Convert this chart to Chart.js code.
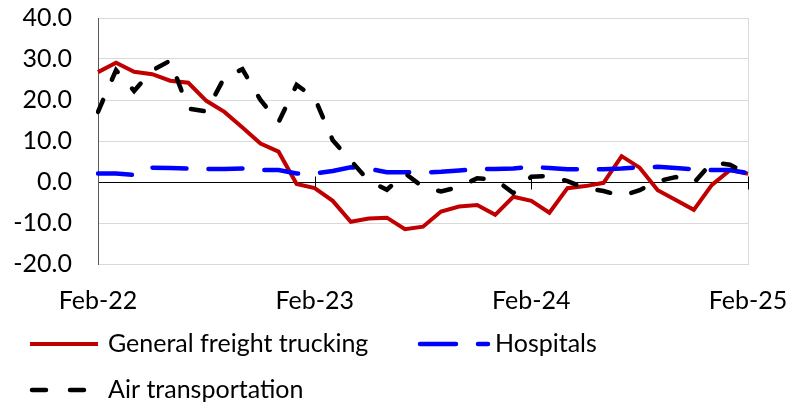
<!DOCTYPE html>
<html>
<head>
<meta charset="utf-8">
<script src="https://cdn.jsdelivr.net/npm/chart.js@4.4.1/dist/chart.umd.min.js"></script>
<style>
  html, body { margin: 0; padding: 0; background: #fff; }
  #wrap { width: 797px; height: 409px; }
</style>
</head>
<body>
<div id="wrap"><canvas id="chart" width="797" height="409"></canvas></div>
<script>
(function () {
  "use strict";

  /* ---------- Data (monthly, Feb-22 .. Feb-25) ---------- */
  const months = [
    "Feb-22", "Mar-22", "Apr-22", "May-22", "Jun-22", "Jul-22", "Aug-22", "Sep-22", "Oct-22", "Nov-22", "Dec-22", "Jan-23",
    "Feb-23", "Mar-23", "Apr-23", "May-23", "Jun-23", "Jul-23", "Aug-23", "Sep-23", "Oct-23", "Nov-23", "Dec-23", "Jan-24",
    "Feb-24", "Mar-24", "Apr-24", "May-24", "Jun-24", "Jul-24", "Aug-24", "Sep-24", "Oct-24", "Nov-24", "Dec-24", "Jan-25",
    "Feb-25"
  ];
  const tickLabels = ["Feb-22", "Feb-23", "Feb-24", "Feb-25"];
  const yTicks = [-20, -10, 0, 10, 20, 30, 40];

  const trucking = [
    26.8, 29.1, 26.9, 26.3, 24.7, 24.2, 19.8, 17.1, 13.3, 9.4, 7.4, -0.5,
    -1.5, -4.6, -9.7, -8.9, -8.7, -11.5, -10.9, -7.2, -6.0, -5.6, -8.0, -3.6,
    -4.6, -7.5, -1.5, -1.0, -0.2, 6.3, 3.5, -2.0, -4.4, -6.8, -0.7, 2.9,
    2.0
  ];
  const hospitals = [
    2.1, 2.1, 1.7, 3.5, 3.4, 3.3, 3.2, 3.2, 3.3, 2.9, 2.9, 2.1,
    2.1, 2.7, 3.6, 3.2, 2.4, 2.4, 2.3, 2.5, 2.8, 3.1, 3.2, 3.3,
    3.7, 3.4, 3.1, 3.1, 3.1, 3.3, 3.6, 3.7, 3.4, 3.1, 2.9, 2.9,
    2.2
  ];
  const airTransport = [
    17.1, 27.3, 22.2, 27.2, 29.6, 17.9, 17.2, 25.5, 27.5, 20.0, 14.6, 23.7,
    20.5, 10.2, 5.2, 0.3, -1.9, 2.1, -1.2, -2.3, -1.2, 0.9, 0.6, -2.7,
    1.3, 1.5, 0.2, -1.5, -2.2, -3.4, -2.0, 0.2, 1.2, -0.2, 4.8, 4.2,
    2.0
  ];

  /* ---------- Style ---------- */
  const RED = "#C00000";
  const BLUE = "#0000FF";
  const BLACK = "#000000";
  const GRID = "#D9D9D9";
  const FONT = "Lato, 'Liberation Sans', sans-serif";
  const FONT_SIZE = 25;

  Chart.defaults.font.family = FONT;
  Chart.defaults.font.size = FONT_SIZE;
  Chart.defaults.color = "#000";

  /* frame, zero axis with cross ticks */
  const framePlugin = {
    id: "frame",
    beforeDatasetsDraw(chart) {
      const { ctx, chartArea: a, scales } = chart;
      const y0 = Math.round(scales.y.getPixelForValue(0)) + 0.5;
      ctx.save();
      ctx.strokeStyle = GRID;
      ctx.lineWidth = 1;
      ctx.strokeRect(a.left + 0.5, a.top + 0.5, a.right - a.left, a.bottom - a.top);
      ctx.strokeStyle = "#000";
      ctx.beginPath();
      ctx.moveTo(a.left, y0);
      ctx.lineTo(a.right, y0);
      months.forEach((m, i) => {
        if (i === 0 || !tickLabels.includes(m)) return;
        const x = Math.round(scales.x.getPixelForValue(i)) + 0.5;
        ctx.moveTo(x, y0 - 6);
        ctx.lineTo(x, y0 + 7);
      });
      ctx.stroke();
      ctx.strokeStyle = "#595959";
      ctx.beginPath();
      ctx.moveTo(a.left + 0.5, a.top);
      ctx.lineTo(a.left + 0.5, a.bottom + 1);
      ctx.stroke();
      ctx.restore();
    }
  };

  /* legend in two rows, as in the source */
  const legendItems = [
    { label: "General freight trucking", color: RED, dash: [], x: 32, w: 66, tx: 108, y: 344 },
    { label: "Hospitals", color: BLUE, dash: [36, 22], x: 420, w: 68, tx: 495, y: 344 },
    { label: "Air transportation", color: BLACK, dash: [14, 24], x: 32, w: 54, tx: 108, y: 390 }
  ];
  const legendPlugin = {
    id: "legendRows",
    afterDraw(chart) {
      const ctx = chart.ctx;
      ctx.save();
      legendItems.forEach(it => {
        ctx.strokeStyle = it.color;
        ctx.lineWidth = it.dash.length ? 4.5 : 4;
        ctx.lineCap = it.dash.length ? "round" : "butt";
        ctx.setLineDash(it.dash);
        ctx.beginPath();
        ctx.moveTo(it.x - (it.dash.length ? 0 : 2), it.y);
        ctx.lineTo(it.x + it.w, it.y);
        ctx.stroke();
        ctx.setLineDash([]);
        ctx.fillStyle = "#000";
        ctx.font = FONT_SIZE + "px " + FONT;
        ctx.textBaseline = "alphabetic";
        ctx.fillText(it.label, it.tx, it.y + 8);
      });
      ctx.restore();
    }
  };

  new Chart(document.getElementById("chart"), {
    type: "line",
    data: {
      labels: months,
      datasets: [
        {
          label: "General freight trucking",
          data: trucking,
          borderColor: RED,
          borderWidth: 4,
          pointRadius: 0,
          tension: 0,
          order: 3
        },
        {
          label: "Hospitals",
          data: hospitals,
          borderColor: BLUE,
          borderWidth: 4.5,
          borderDash: [34, 22],
          borderCapStyle: "round",
          pointRadius: 0,
          tension: 0,
          order: 2
        },
        {
          label: "Air transportation",
          data: airTransport,
          borderColor: BLACK,
          borderWidth: 4.5,
          borderDash: [13, 22],
          borderCapStyle: "round",
          pointRadius: 0,
          tension: 0,
          order: 1
        }
      ]
    },
    options: {
      responsive: false,
      animation: false,
      layout: { padding: { left: 0, right: 49, top: 18, bottom: 95 } },
      plugins: {
        legend: { display: false },
        tooltip: { enabled: false }
      },
      scales: {
        x: {
          offset: false,
          grid: { display: true, drawOnChartArea: false, drawTicks: true, tickLength: 22, tickColor: "rgba(0,0,0,0)" },
          border: { display: false },
          ticks: {
            autoSkip: false,
            maxRotation: 0,
            padding: 0,
            callback: function (v, i) {
              const lbl = months[i];
              return tickLabels.includes(lbl) ? lbl : "";
            }
          },
          afterFit: s => { s.height = 50; }
        },
        y: {
          min: yTicks[0],
          max: yTicks[yTicks.length - 1],
          afterBuildTicks: s => { s.ticks = yTicks.map(v => ({ value: v })); },
          grid: { color: GRID, lineWidth: 1, drawTicks: true, tickLength: 26, tickColor: "rgba(0,0,0,0)" },
          border: { display: false },
          ticks: {
            padding: 0,
            callback: v => Number(v).toFixed(1)
          },
          afterFit: s => { s.width = 98; }
        }
      }
    },
    plugins: [framePlugin, legendPlugin]
  });
})();
</script>
</body>
</html>
